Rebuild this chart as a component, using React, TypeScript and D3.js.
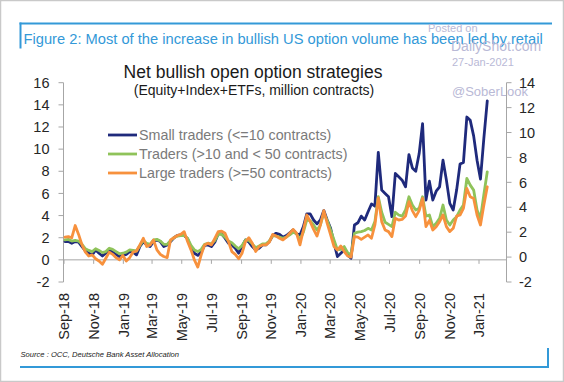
import React from 'react';
import * as d3 from 'd3';

// Weekly observations (million contracts), starting week of 3-Sep-2018
const seriesStart = '2018-09-03';
const smallTraders = [
  1.65, 1.65, 1.5, 1.65, 1.6, 1.2, 0.8, 0.6, 0.45, 0.9, 0.6, 0.35, 0.6, 0.9, 0.7, 0.5, 0.3, 0.4, 0.5, 0.75, 0.7, 0.45, 1.2, 1.65, 1.35, 1.2, 1.65, 1.8, 1.65, 1.2, 1.35, 1.65,
  2.0, 2.2, 2.25, 2.2, 1.9, 1.1, 0.6, 0.4, 0.7, 1.3, 1.35, 1.2, 1.6, 2.35, 2.35, 1.95, 1.5, 1.35, 1.05, 0.6, 1.2, 1.8, 1.6, 1.2, 0.9, 1.05, 1.35, 1.35, 1.65, 2.2,
  2.4, 2.3, 2.05, 2.2, 2.45, 2.7, 2.35, 2.25, 3.0, 4.15, 4.15, 3.6, 3.25, 3.6, 4.45, 3.6, 2.85, 1.5, 0.3, 0.6, 0.9, 0.45, 0.15, 3.15, 3.35, 3.95, 3.6, 4.35, 5.05, 4.85, 9.7,
  6.3, 6.0, 5.7, 3.9, 7.8, 7.5, 7.2, 6.6, 9.5, 8.3, 8.0, 9.6, 12.3, 5.4, 7.1, 5.4, 6.2, 6.6, 9.0, 7.2, 5.1, 4.5, 6.3, 8.65, 8.8, 12.9, 12.6, 11.2, 9.0, 7.3, 11.0, 14.35,
];
const midTraders = [
  1.8, 1.85, 1.7, 1.75, 1.7, 1.4, 1.0, 0.85, 0.75, 1.0, 0.85, 0.65, 0.75, 1.05, 0.95, 0.75, 0.55, 0.6, 0.7, 0.9, 0.85, 0.8, 1.3, 1.75, 1.5, 1.4, 1.8, 1.85, 1.7, 1.4, 1.4, 1.75,
  2.0, 2.15, 2.2, 2.2, 1.95, 1.3, 0.9, 0.75, 0.95, 1.4, 1.5, 1.45, 1.75, 2.3, 2.3, 2.05, 1.7, 1.55, 1.25, 1.0, 1.3, 1.8, 1.75, 1.45, 1.1, 1.25, 1.45, 1.45, 1.7,
  2.2, 2.15, 2.05, 1.95, 2.05, 2.25, 2.5, 2.35, 1.85, 2.5, 3.6, 3.55, 3.15, 2.7, 3.15, 4.25, 3.55, 2.7, 1.8, 0.9, 0.95, 1.2, 0.65, 0.45, 2.4, 2.5, 2.55, 2.65, 2.85, 2.7, 3.45, 5.7,
  4.3, 3.4, 3.2, 3.0, 4.3, 4.05, 3.95, 4.5, 5.7, 4.95, 4.5, 4.65, 5.7, 3.95, 4.05, 3.0, 3.3, 3.75, 4.95, 3.6, 3.15, 3.6, 3.9, 4.5, 4.95, 7.35, 6.75, 6.3, 4.5, 3.75, 5.9, 7.95,
];
const largeTraders = [
  2.05, 2.1, 2.0, 3.1, 2.3, 1.35, 0.7, 0.35, 0.45, 0.1, -0.1, -0.4, 0.15, 0.7, 0.5, 0.2, 0.0, 0.4, -0.1, 0.2, 0.7, 0.8, 1.35, 1.95, 1.2, 1.35, 1.8, 0.9, 0.5, 0.3, 0.2, 1.8,
  2.0, 2.2, 2.3, 2.55, 1.65, 0.9, 0.0, -0.65, 0.45, 1.35, 1.5, 1.35, 1.95, 2.55, 2.6, 2.4, 1.65, 0.75, 0.5, 0.1, 0.6, 1.65, 2.0, 1.5, 0.75, 1.2, 1.35, 1.35, 1.6,
  2.3, 2.15, 1.95, 1.8, 2.05, 2.4, 2.75, 2.4, 1.35, 2.7, 4.05, 3.45, 2.75, 2.15, 3.15, 4.45, 3.3, 2.25, 1.2, 0.9, 1.25, 0.75, 0.35, 0.25, 2.1, 2.05, 1.85, 2.05, 2.25, 1.95, 3.15, 5.6,
  3.45, 2.7, 2.55, 2.1, 3.75, 3.6, 3.65, 3.95, 5.25, 4.45, 3.9, 4.45, 5.55, 3.0, 3.55, 2.7, 3.0, 3.45, 4.05, 3.0, 2.55, 2.85, 3.95, 4.05, 4.65, 6.45, 5.7, 5.55, 4.05, 3.15, 4.95, 6.6,
];

const seriesNames = [
  'Small traders (<=10 contracts)',
  'Traders (>10 and < 50 contracts)',
  'Large traders (>=50 contracts)',
];
const seriesColors = ['#1f2a7c', '#8fc35a', '#f7913d'];

const xTickDates = [
  '2018-09-01', '2018-11-01', '2019-01-01', '2019-03-01', '2019-05-01', '2019-07-01', '2019-09-01', '2019-11-01',
  '2020-01-01', '2020-03-01', '2020-05-01', '2020-07-01', '2020-09-01', '2020-11-01', '2021-01-01',
];
const xTickLabels = [
  'Sep-18', 'Nov-18', 'Jan-19', 'Mar-19', 'May-19', 'Jul-19', 'Sep-19', 'Nov-19',
  'Jan-20', 'Mar-20', 'May-20', 'Jul-20', 'Sep-20', 'Nov-20', 'Jan-21',
];
const yLeftTicks = [-2, 0, 2, 4, 6, 8, 10, 12, 14, 16];
const yRightTicks = [-2, 0, 2, 4, 6, 8, 10, 12, 14];

const FONT = "'Liberation Sans', Arial, sans-serif";
const BLUE = '#3399d8';
const AXIS = '#a6a6a6';
const WM = '#b9b9d6';

const parse = (s: string) => {
  const [y, m, d] = s.split('-').map(Number);
  return new Date(y, m - 1, d);
};

export default function App() {
  const W = 564;
  const H = 382;
  const plotLeft = 63.5;
  const plotRight = 506.5;
  const yTop = 82.7;
  const yBottom = 282;

  const x = d3.scaleTime().domain([parse('2018-09-01'), parse('2021-01-01')]).range([64, 479]);
  const yL = d3.scaleLinear().domain([-2, 16]).range([yBottom, yTop]);
  const yR = d3.scaleLinear().domain([-2, 14]).range([yBottom, yTop]);

  const start = parse(seriesStart);
  const dates = smallTraders.map((_, i) => d3.timeDay.offset(start, i * 7));
  const allSeries = [smallTraders, midTraders, largeTraders];

  const line = d3
    .line<number>()
    .x((_, i) => x(dates[i]))
    .y((v) => yL(v));

  const zeroY = yL(0);

  return (
    <svg
      width={W}
      height={H}
      style={{ position: 'absolute', left: 0, top: 0, background: '#fff' }}
      fontFamily={FONT}
    >
      <rect x={0.5} y={0.5} width={W - 1} height={H - 1} fill="#fff" stroke="#c9c9c9" strokeWidth={1.5} />

      {/* frame decorations */}
      <line x1={19.5} y1={23.5} x2={552} y2={23.5} stroke={BLUE} strokeWidth={2} />
      <line x1={20.5} y1={22.5} x2={20.5} y2={48.5} stroke={BLUE} strokeWidth={2} />
      <line x1={20} y1={367} x2={549} y2={367} stroke={BLUE} strokeWidth={2} />
      <line x1={548} y1={348} x2={548} y2={368} stroke={BLUE} strokeWidth={2} />

      <text x={23.5} y={44} fontSize={14.7} fill={BLUE}>
        Figure 2: Most of the increase in bullish US option volume has been led by retail
      </text>

      {/* watermark */}
      <text x={428} y={32} fontSize={11} fill={WM}>Posted on</text>
      <text x={451} y={51} fontSize={14} fill={WM}>DailyShot.com</text>
      <text x={452} y={66} fontSize={11} fill={WM}>27-Jan-2021</text>
      <text x={452} y={96} fontSize={13} fill={WM}>@SoberLook</text>

      {/* chart titles */}
      <text x={253} y={78} fontSize={17.5} fill="#1a1a1a" textAnchor="middle">
        Net bullish open option strategies
      </text>
      <text x={254} y={95} fontSize={14} fill="#1a1a1a" textAnchor="middle">
        (Equity+Index+ETFs, million contracts)
      </text>

      {/* left axis */}
      <line x1={plotLeft} y1={yTop} x2={plotLeft} y2={yBottom} stroke={AXIS} strokeWidth={1} />
      {yLeftTicks.map((t) => (
        <g key={'l' + t}>
          <line x1={plotLeft - 5} x2={plotLeft} y1={yL(t)} y2={yL(t)} stroke={AXIS} />
          <text x={plotLeft - 14} y={yL(t)} dy="0.36em" fontSize={14.5} textAnchor="end" fill="#262626">
            {t}
          </text>
        </g>
      ))}

      {/* right axis */}
      <line x1={plotRight} y1={yTop} x2={plotRight} y2={yBottom} stroke={AXIS} strokeWidth={1} />
      {yRightTicks.map((t) => (
        <g key={'r' + t}>
          <line x1={plotRight} x2={plotRight + 5} y1={yR(t)} y2={yR(t)} stroke={AXIS} />
          <text x={plotRight + 12.5} y={yR(t)} dy="0.36em" fontSize={14.5} textAnchor="start" fill="#262626">
            {t}
          </text>
        </g>
      ))}

      {/* x axis at zero */}
      <line x1={plotLeft} x2={plotRight} y1={zeroY} y2={zeroY} stroke={AXIS} strokeWidth={1} />
      {xTickDates.map((d, i) => {
        const px = x(parse(d));
        return (
          <g key={d}>
            <line x1={px} x2={px} y1={zeroY} y2={zeroY + 4} stroke={AXIS} />
            <text
              transform={`translate(${px},293) rotate(-90)`}
              dy="0.36em"
              fontSize={14.5}
              textAnchor="end"
              fill="#262626"
            >
              {xTickLabels[i]}
            </text>
          </g>
        );
      })}

      {/* series */}
      {allSeries.map((s, k) => (
        <path
          key={k}
          d={line(s) || ''}
          fill="none"
          stroke={seriesColors[k]}
          strokeWidth={2.8}
          strokeLinejoin="round"
          strokeLinecap="round"
        />
      ))}

      {/* legend */}
      {seriesNames.map((n, k) => (
        <g key={n}>
          <line x1={108} x2={137} y1={135 + k * 19} y2={135 + k * 19} stroke={seriesColors[k]} strokeWidth={2.8} />
          <text x={139} y={135 + k * 19} dy="0.36em" fontSize={14.3} fill="#7a7a7a">
            {n}
          </text>
        </g>
      ))}

      <text x={20.5} y={357} fontSize={7.6} fontStyle="italic" fill="#222">
        Source : OCC, Deutsche Bank Asset Allocation
      </text>
    </svg>
  );
}
